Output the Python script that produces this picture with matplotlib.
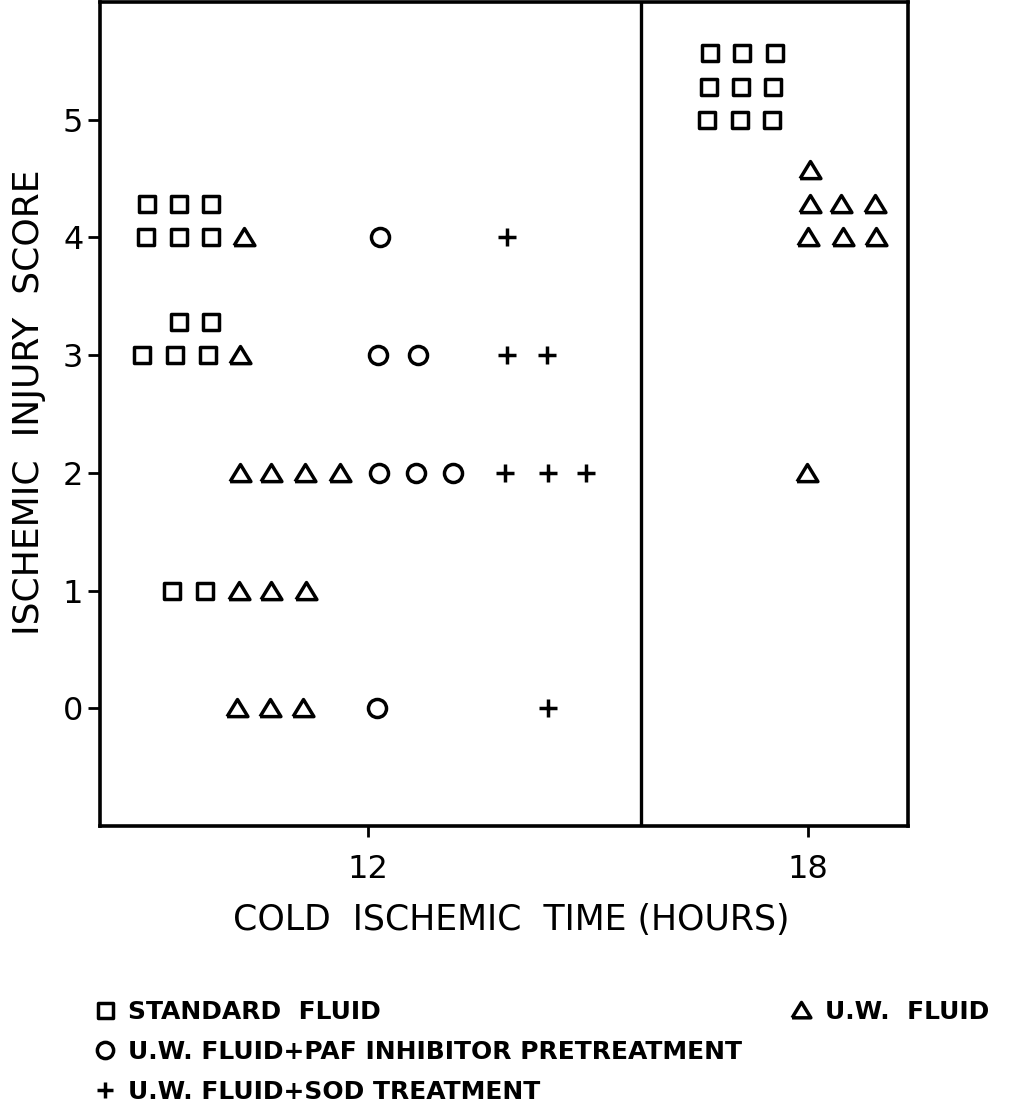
import matplotlib
matplotlib.use("Agg")
import matplotlib.pyplot as plt
from matplotlib.lines import Line2D
from matplotlib.markers import MarkerStyle

plt.rcParams['font.family'] = ['DejaVu Sans']

# ---- data (x: plotting position on the cold-ischemic-time axis, y: injury score,
#      stacked rows drawn slightly above the integer score as in the original) ----
std_x = [8.99, 9.42, 9.86, 8.97, 9.42, 9.86, 9.42, 9.86, 8.92, 9.37, 9.82, 9.33, 9.78,
         16.66, 17.10, 17.55, 16.65, 17.09, 17.52, 16.62, 17.07, 17.51]
std_y = [4.28, 4.28, 4.28, 4.0, 4.0, 4.0, 3.28, 3.28, 3.0, 3.0, 3.0, 1.0, 1.0,
         5.57, 5.57, 5.57, 5.28, 5.28, 5.28, 5.0, 5.0, 5.0]

uw_x = [10.31, 10.25, 10.25, 10.68, 11.14, 11.62, 10.24, 10.68, 11.15, 10.21, 10.66, 11.11,
        18.03, 18.03, 18.45, 18.91, 18.00, 18.48, 18.93, 17.99]
uw_y = [4.0, 3.0, 2.0, 2.0, 2.0, 2.0, 1.0, 1.0, 1.0, 0.0, 0.0, 0.0,
        4.57, 4.28, 4.28, 4.28, 4.0, 4.0, 4.0, 2.0]

paf_x = [12.16, 12.14, 12.68, 12.15, 12.65, 13.16, 12.12]
paf_y = [4.0, 3.0, 3.0, 2.0, 2.0, 2.0, 0.0]

sod_x = [13.90, 13.90, 14.44, 13.87, 14.45, 14.97, 14.45]
sod_y = [4.0, 3.0, 3.0, 2.0, 2.0, 2.0, 0.0]

x_ticks = [12, 18]
x_tick_labels = ["12", "18"]
y_ticks = [0, 1, 2, 3, 4, 5]
divider_x = 15.72

labels = ["STANDARD  FLUID", "U.W.  FLUID", "U.W. FLUID+PAF INHIBITOR PRETREATMENT",
          "U.W. FLUID+SOD TREATMENT"]

narrow = ['Liberation Sans Narrow', 'DejaVu Sans']

fig = plt.figure(figsize=(10.18, 11.18), dpi=100)
ax = fig.add_axes([100/1018, 1 - 826/1118, 808/1018, 824/1118])

lw = 2.5
common = dict(linestyle='none', markerfacecolor='white', markeredgecolor='black',
              markeredgewidth=lw, color='black')
tri = [(-1.0, -0.78), (1.0, -0.78), (0.0, 0.86), (-1.0, -0.78)]
h_std, = ax.plot(std_x, std_y, marker=MarkerStyle('s', joinstyle='round'),
                 markersize=12, **common)
h_uw, = ax.plot(uw_x, uw_y, marker=MarkerStyle(tri, joinstyle='round'),
                markersize=15, **common)
h_paf, = ax.plot(paf_x, paf_y, marker='o', markersize=13, **common)
h_sod, = ax.plot(sod_x, sod_y, marker='+', markersize=13, **common)

ax.axvline(divider_x, color='black', linewidth=2.4)

ax.set_xlim(8.345, 19.364)
ax.set_ylim(-1.0, 6.0)
ax.set_xticks(x_ticks)
ax.set_xticklabels(x_tick_labels)
ax.set_yticks(y_ticks)
for s in ax.spines.values():
    s.set_linewidth(2.6)
    s.set_color('black')
ax.tick_params(axis='both', direction='out', width=2, colors='black', labelsize=23)
ax.tick_params(axis='x', length=8, pad=12)
ax.tick_params(axis='y', length=9, pad=3)

ax.set_xlabel("COLD  ISCHEMIC  TIME (HOURS)", fontsize=25, family=narrow)
ax.xaxis.set_label_coords(0.509, -(920 - 826) / 824, transform=ax.transAxes)
ax.xaxis.label.set_va('center')
ax.set_ylabel("ISCHEMIC  INJURY  SCORE", fontsize=26, family=narrow)
ax.yaxis.set_label_coords(-(100 - 29) / 808, (826 - 402) / 824, transform=ax.transAxes)
ax.yaxis.label.set_va('center')

blank = Line2D([], [], linestyle='none')
fig.legend([h_std, h_paf, h_sod, h_uw, blank, blank],
           [labels[0], labels[2], labels[3], labels[1], "", ""],
           ncol=2, loc='upper left', bbox_to_anchor=(0.082, 0.117),
           frameon=False, prop={'size': 18, 'weight': 'bold'},
           markerscale=0.9, handlelength=0.7, handletextpad=0.6,
           columnspacing=2.0, labelspacing=0.65, borderpad=0)

fig.savefig("out.png", dpi=100)
